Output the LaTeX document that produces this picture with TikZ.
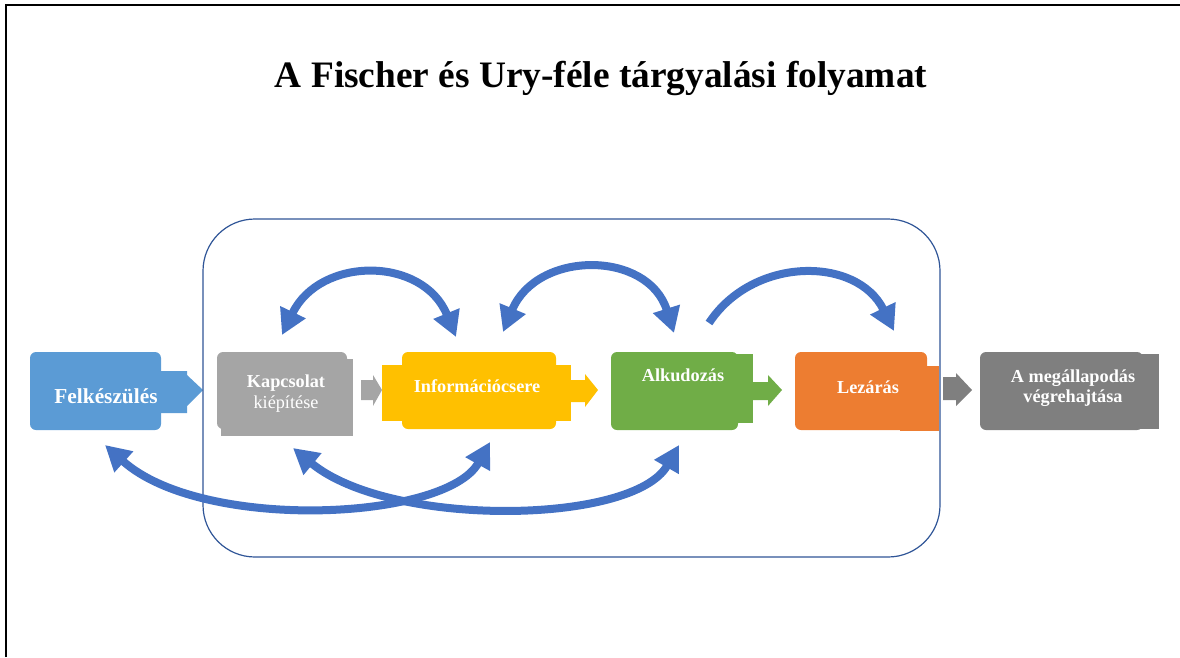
\documentclass[tikz,border=0pt]{standalone}
\usepackage{fontspec}
\setmainfont{Liberation Serif}
\usetikzlibrary{arrows.meta}
\definecolor{stepblue}{HTML}{5B9BD5}
\definecolor{steplightgray}{HTML}{A5A5A5}
\definecolor{stepyellow}{HTML}{FFC000}
\definecolor{stepgreen}{HTML}{70AD47}
\definecolor{steporange}{HTML}{ED7D31}
\definecolor{stepdarkgray}{HTML}{7F7F7F}
\definecolor{cycleblue}{HTML}{4472C4}
\definecolor{phaseframe}{HTML}{2F5597}

\begin{document}
\begin{tikzpicture}[x=0.75pt, y=-0.75pt, every node/.style={font=\bfseries\fontsize{13.7}{16}\selectfont, text=white}, >={Triangle[length=19pt, width=20pt]},
	stepbox/.style={rounded corners=4.5pt, minimum height=58.5pt, inner sep=0pt},
	cyclearrow/.style={cycleblue, line width=6pt}]
	\useasboundingbox (0,0) rectangle (1180,657);
	\draw[line width=1.5pt] (6,657) -- (6,5) -- (1180,5);
	\node[text=black, font=\bfseries\fontsize{28}{34}\selectfont, anchor=base] (title) at (601,87) {A Fischer és Ury-féle tárgyalási folyamat};
	\fill[stepblue] (161,371) -- (187,371) -- (187,375) -- (203,390) -- (187,406) -- (187,413) -- (161,413) -- cycle;
	\node[stepbox, fill=stepblue, minimum width=98.25pt] (prep) at (95.5,391) {};
	\fill[steplightgray] (221,359) rectangle (353,436);
	\node[stepbox, fill=steplightgray, minimum width=97.5pt, minimum height=57.75pt] (contact) at (282,390.5) {};
	\fill[steplightgray] (361,380) -- (373,380) -- (373,375) -- (382,390) -- (373,406) -- (373,400) -- (361,400) -- cycle;
	\fill[stepyellow] (382,365) rectangle (571,421);
	\node[stepbox, fill=stepyellow, minimum width=115.5pt, minimum height=57.75pt] (info) at (479,390.5) {};
	\fill[stepyellow] (570,380) -- (585,380) -- (585,374) -- (598,390) -- (585,407) -- (585,402) -- (570,402) -- cycle;
	\fill[stepgreen] (700,354) rectangle (753,423);
	\node[stepbox, fill=stepgreen, minimum width=95.25pt] (bargain) at (674.5,391) {};
	\fill[stepgreen] (753,382) -- (768,382) -- (768,375) -- (782,390) -- (768,406) -- (768,400) -- (753,400) -- cycle;
	\fill[steporange] (900,366) rectangle (939,431);
	\node[stepbox, fill=steporange, minimum width=99pt] (closing) at (861,391) {};
	\fill[stepdarkgray] (943,377) -- (956,377) -- (956,373) -- (972,390) -- (956,406) -- (956,400) -- (943,400) -- cycle;
	\fill[stepdarkgray] (1000,354) rectangle (1159,429);
	\node[stepbox, fill=stepdarkgray, minimum width=122.25pt] (execution) at (1061.5,391) {};
	\node[anchor=base, font=\bfseries\fontsize{16}{19}\selectfont] (prepText) at (106,403) {Felkészülés};
	\node[anchor=base] (contactText) at (286,387) {Kapcsolat};
	\node[anchor=base, font=\fontsize{13.7}{16}\selectfont] (contactText2) at (286,408) {kiépítése};
	\node[anchor=base] (infoText) at (477,392) {Információcsere};
	\node[anchor=base] (bargainText) at (683,381) {Alkudozás};
	\node[anchor=base] (closingText) at (868,393) {Lezárás};
	\node[anchor=base] (execText) at (1073,382) {A megállapodás};
	\node[anchor=base] (execText2) at (1073,402) {végrehajtása};
	\draw[phaseframe, line width=0.9pt, rounded corners=39pt] (203,219) rectangle (940,557);
	\coordinate (up1a) at (282,335);
	\coordinate (up1b) at (456,337);
	\coordinate (up2a) at (503,332);
	\coordinate (up2b) at (674,333);
	\coordinate (up3a) at (709,323);
	\coordinate (up3b) at (894,331);
	\coordinate (low1a) at (105,445);
	\coordinate (low1b) at (490,442);
	\coordinate (low2a) at (293,448);
	\coordinate (low2b) at (679,445);
	\draw[cyclearrow, <->] (up1a) .. controls (320,256) and (423,256) .. (up1b);
	\draw[cyclearrow, <->] (up2a) .. controls (537,250) and (648,250) .. (up2b);
	\draw[cyclearrow, ->] (up3a) .. controls (753,256) and (857,256) .. (up3b);
	\draw[cyclearrow, <->] (low1a) .. controls (202,532) and (446,521) .. (low1b);
	\draw[cyclearrow, <->] (low2a) .. controls (390,528) and (633,525) .. (low2b);
\end{tikzpicture}
\end{document}
